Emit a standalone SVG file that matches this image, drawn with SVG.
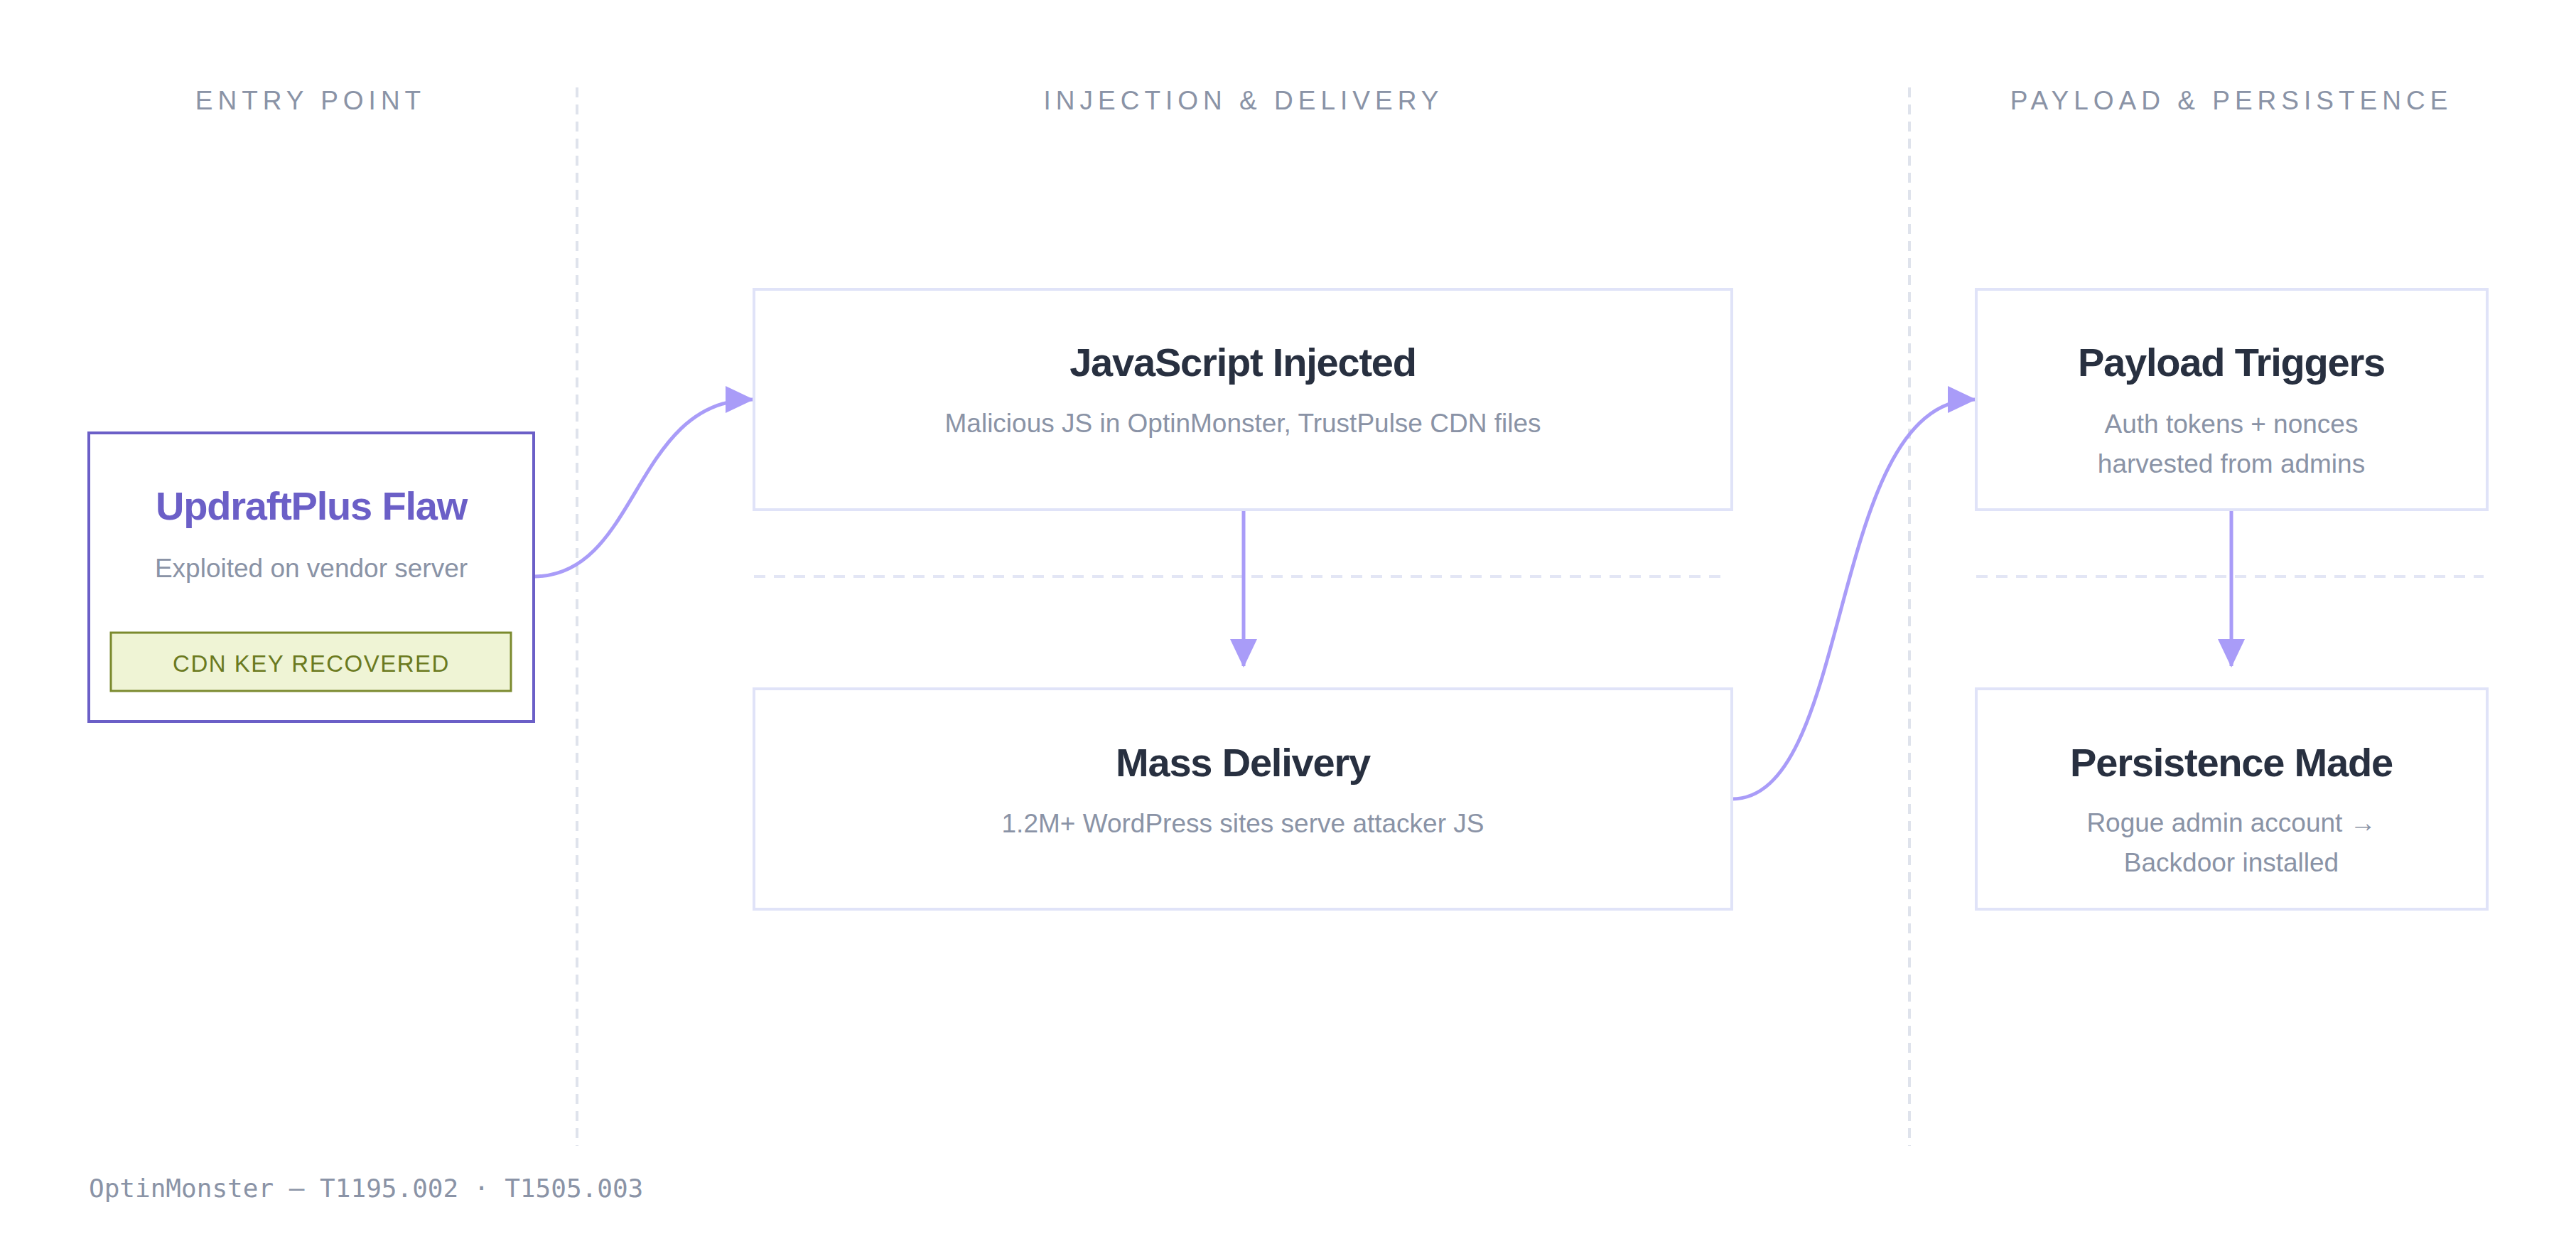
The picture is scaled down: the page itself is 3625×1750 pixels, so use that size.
<svg xmlns="http://www.w3.org/2000/svg" width="3625" height="1750" viewBox="0 0 3625 1750">
<style>
.hdr{font-family:"Liberation Sans",Arial,sans-serif;font-size:37px;fill:#8a93a6;letter-spacing:7px;text-anchor:middle}
.div{stroke:#dfe3ec;stroke-width:4;stroke-dasharray:14 10;fill:none}
.sep{stroke:#e3e6f5;stroke-width:4;stroke-dasharray:16 12;fill:none}
.box{fill:#fff;stroke:#e0e3f8;stroke-width:4}
.ttl{font-family:"Liberation Sans",Arial,sans-serif;font-size:56px;font-weight:bold;fill:#283040;text-anchor:middle;letter-spacing:-1.2px}
.sub{font-family:"Liberation Sans",Arial,sans-serif;font-size:37px;fill:#8a93a6;text-anchor:middle}
.con{stroke:#a99cf8;stroke-width:5;fill:none}
</style>
<defs>
<marker id="ah" viewBox="0 0 10 10" refX="10" refY="5" markerWidth="8" markerHeight="8" markerUnits="userSpaceOnUse" orient="auto" style="overflow:visible">
<path d="M0,0 L10,5 L0,10 Z" fill="#a99cf8" transform="scale(1)"/>
</marker>
<marker id="ahb" viewBox="0 0 40 38" refX="38" refY="19" markerWidth="40" markerHeight="38" markerUnits="userSpaceOnUse" orient="auto">
<path d="M0,0 L40,19 L0,38 Z" fill="#a99cf8"/>
</marker>
</defs>
<rect width="3625" height="1750" fill="#fff"/>
<g id="lanes">
<text class="hdr" x="437" y="154">ENTRY POINT</text>
<text class="hdr" x="1750" y="154">INJECTION &amp; DELIVERY</text>
<text class="hdr" x="3140" y="154">PAYLOAD &amp; PERSISTENCE</text>
<line class="div" x1="812" y1="123" x2="812" y2="1612"/>
<line class="div" x1="2687" y1="123" x2="2687" y2="1612"/>
<line class="sep" x1="1061" y1="811" x2="2430" y2="811"/>
<line class="sep" x1="2781" y1="811" x2="3495" y2="811"/>
</g>
<g id="connectors">
<path class="con" d="M751,811 C900,811 890,562 1059,562" marker-end="url(#ahb)"/>
<path class="con" d="M1750,717 L1750,937" marker-end="url(#ahb)"/>
<path class="con" d="M2437,1124 C2610,1124 2570,562 2779,562" marker-end="url(#ahb)"/>
<path class="con" d="M3140,717 L3140,937" marker-end="url(#ahb)"/>
</g>
<g id="updraft">
<rect x="125" y="609" width="626" height="406" fill="#fff" stroke="#6b5fc7" stroke-width="4"/>
<text class="ttl" x="438" y="731" style="fill:#6b5fc7">UpdraftPlus Flaw</text>
<text class="sub" x="438" y="812">Exploited on vendor server</text>
<rect x="156" y="890" width="563" height="82" fill="#eff4d5" stroke="#7b8a2e" stroke-width="3"/>
<text x="438" y="945" font-family="'Liberation Sans',Arial,sans-serif" font-size="33" fill="#6b7a1f" text-anchor="middle" letter-spacing="1.5">CDN KEY RECOVERED</text>
</g>
<g id="jsinjected">
<rect class="box" x="1061" y="407" width="1376" height="310"/>
<text class="ttl" x="1749" y="529">JavaScript Injected</text>
<text class="sub" x="1749" y="608">Malicious JS in OptinMonster, TrustPulse CDN files</text>
</g>
<g id="massdelivery">
<rect class="box" x="1061" y="969" width="1376" height="310"/>
<text class="ttl" x="1749" y="1092">Mass Delivery</text>
<text class="sub" x="1749" y="1171">1.2M+ WordPress sites serve attacker JS</text>
</g>
<g id="payload">
<rect class="box" x="2781" y="407" width="719" height="310"/>
<text class="ttl" x="3140" y="529">Payload Triggers</text>
<text class="sub" x="3140" y="609">Auth tokens + nonces</text>
<text class="sub" x="3140" y="665">harvested from admins</text>
</g>
<g id="persistence">
<rect class="box" x="2781" y="969" width="719" height="310"/>
<text class="ttl" x="3140" y="1092">Persistence Made</text>
<text class="sub" x="3140" y="1170">Rogue admin account →</text>
<text class="sub" x="3140" y="1226">Backdoor installed</text>
</g>
<g id="footer">
<text x="125" y="1684" font-family="'DejaVu Sans Mono','Liberation Mono',monospace" font-size="36" fill="#8a93a6">OptinMonster — T1195.002 · T1505.003</text>
</g>
</svg>
